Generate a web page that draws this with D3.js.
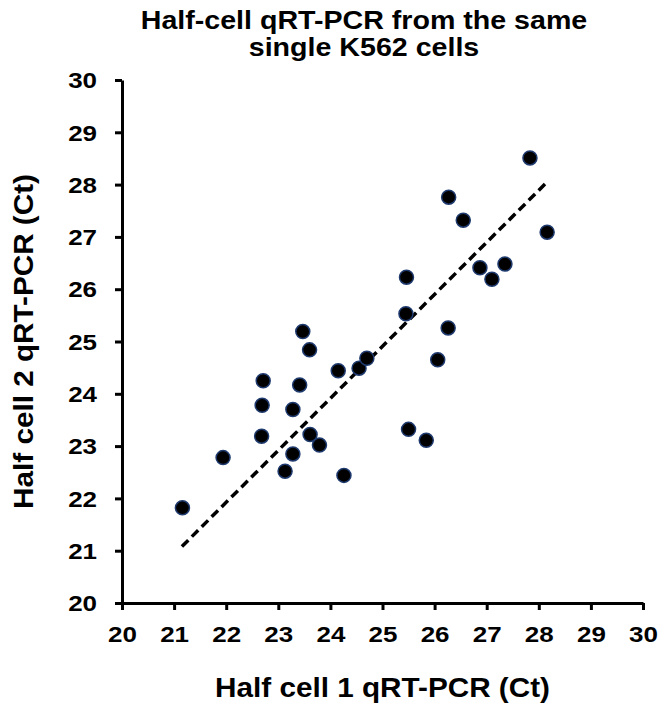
<!DOCTYPE html>
<html>
<head>
<meta charset="utf-8">
<script src="https://cdn.jsdelivr.net/npm/d3@7"></script>
<style>
  html, body { margin: 0; padding: 0; background: #fff; }
  svg { display: block; }
  text { font-family: "Liberation Sans", Arial, sans-serif; font-weight: bold; fill: #000; }
</style>
</head>
<body>
<svg id="chart" width="661" height="704"></svg>
<script>
// Ct values of the two halves of each single K562 cell
const halfCell1 = [21.16, 21.94, 22.68, 22.69, 22.71, 23.13, 23.28, 23.28, 23.41, 23.47,
                   23.60, 23.61, 23.79, 24.15, 24.26, 24.55, 24.70, 25.45, 25.46, 25.50,
                   25.84, 26.06, 26.26, 26.27, 26.55, 26.87, 27.10, 27.35, 27.83, 28.16];
const halfCell2 = [21.82, 22.78, 23.19, 23.78, 24.25, 22.52, 22.85, 23.70, 24.17, 25.19,
                   24.84, 23.22, 23.02, 24.44, 22.44, 24.49, 24.68, 25.53, 26.23, 23.32,
                   23.11, 24.65, 25.26, 27.76, 27.32, 26.41, 26.19, 26.48, 28.51, 27.09];

// Linear trend line endpoints (x, y)
const trendX = [21.15, 28.17];
const trendY = [21.08, 28.06];

const tickValues = [20, 21, 22, 23, 24, 25, 26, 27, 28, 29, 30];
const titleLines = ["Half-cell qRT-PCR from the same", "single K562 cells"];
const xTitle = "Half cell 1 qRT-PCR (Ct)";
const yTitle = "Half cell 2 qRT-PCR (Ct)";

const svg = d3.select("#chart");
const plot = { left: 122, right: 643, top: 80, bottom: 603 };

const x = d3.scaleLinear().domain([20, 30]).range([plot.left, plot.right]);
const y = d3.scaleLinear().domain([20, 30]).range([plot.bottom, plot.top]);

// Title
svg.selectAll("text.title")
  .data(titleLines)
  .join("text")
  .attr("class", "title")
  .attr("text-anchor", "middle")
  .attr("font-size", 26)
  .attr("transform", (d, i) => `translate(364,${29 + i * 27}) scale(1.1,1)`)
  .text(d => d);

// Axes
const xAxis = svg.append("g")
  .attr("transform", `translate(0,${plot.bottom})`)
  .call(d3.axisBottom(x).tickValues(tickValues).tickSize(7).tickSizeOuter(0).tickFormat(d3.format("d")));
const yAxis = svg.append("g")
  .attr("transform", `translate(${plot.left},0)`)
  .call(d3.axisLeft(y).tickValues(tickValues).tickSize(7).tickSizeOuter(0).tickFormat(d3.format("d")));

[xAxis, yAxis].forEach(g => {
  g.select(".domain").attr("stroke", "#000").attr("stroke-width", 3);
  g.selectAll(".tick line").attr("stroke", "#000").attr("stroke-width", 3);
  g.selectAll(".tick text")
    .attr("font-size", 22)
    .attr("font-family", "Liberation Sans, Arial, sans-serif")
    .attr("font-weight", "bold")
    .attr("fill", "#000");
});

xAxis.selectAll(".tick text")
  .attr("y", null).attr("dy", null)
  .attr("transform", "translate(0,39) scale(1.18,1)");
yAxis.selectAll(".tick text")
  .attr("x", null).attr("dy", null)
  .attr("dominant-baseline", "central")
  .attr("transform", "translate(-25,0) scale(1.18,1)");

// Axis titles
svg.append("text")
  .attr("text-anchor", "middle")
  .attr("font-size", 27)
  .attr("transform", `translate(${(plot.left + plot.right) / 2},697) scale(1.1,1)`)
  .text(xTitle);
svg.append("text")
  .attr("text-anchor", "middle")
  .attr("font-size", 27)
  .attr("transform", `translate(33,${(plot.top + plot.bottom) / 2}) rotate(-90) scale(1.1,1)`)
  .text(yTitle);

// Trend line
svg.append("line")
  .attr("x1", x(trendX[0])).attr("y1", y(trendY[0]))
  .attr("x2", x(trendX[1])).attr("y2", y(trendY[1]))
  .attr("stroke", "#000")
  .attr("stroke-width", 3.5)
  .attr("stroke-dasharray", "9,5");

// Points
svg.append("g")
  .selectAll("circle")
  .data(d3.zip(halfCell1, halfCell2))
  .join("circle")
  .attr("cx", d => x(d[0]))
  .attr("cy", d => y(d[1]))
  .attr("r", 7)
  .attr("fill", "#000")
  .attr("stroke", "#1f3a6e")
  .attr("stroke-width", 1.5);
</script>
</body>
</html>
